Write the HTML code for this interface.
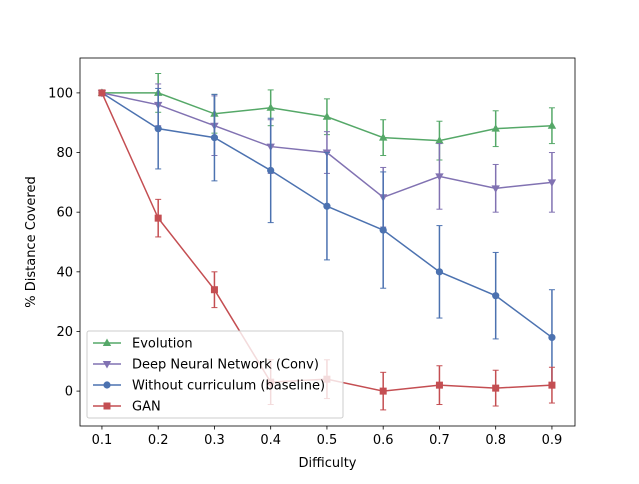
<!DOCTYPE html>
<html><head><meta charset="utf-8"><style>
body{margin:0;background:#fff;font-family:"Liberation Sans","DejaVu Sans",sans-serif}
svg text{font-family:"DejaVu Sans","Liberation Sans",sans-serif;font-size:13px;fill:#000}
</style></head><body>
<svg id="c" width="639" height="479" xmlns="http://www.w3.org/2000/svg"></svg>
<script>
const categories=[0.1,0.2,0.3,0.4,0.5,0.6,0.7,0.8,0.9];
const evolution=[100,100,93,95,92,85,84,88,89];
const evolutionErr=[0,6.5,6.5,6,6,6,6.5,6,6];
const dnn=[100,96,89,82,80,65,72,68,70];
const dnnErr=[0,7,10,9,7,10,11,8,10];
const baseline=[100,88,85,74,62,54,40,32,18];
const baselineErr=[0,13.5,14.5,17.5,18,19.5,15.5,14.5,16];
const gan=[100,58,34,3,4,0,2,1,2];
const ganErr=[0,6.3,6,7.5,6.5,6.3,6.5,6,6];
const xTicks=[0.1,0.2,0.3,0.4,0.5,0.6,0.7,0.8,0.9];
const yTicks=[0,20,40,60,80,100];
const L=80,R=575,T=58,B=426,xmin=0.061,xmax=0.941,ymin=-11.7,ymax=111.7;
const X=v=>L+(v-xmin)/(xmax-xmin)*(R-L);
const Y=v=>B-(v-ymin)/(ymax-ymin)*(B-T);
const svg=document.getElementById('c');const NS='http://www.w3.org/2000/svg';
function mk(t,a,p){const e=document.createElementNS(NS,t);for(const k in a)e.setAttribute(k,a[k]);(p||svg).appendChild(e);return e;}
xTicks.forEach(v=>{const g=mk('g',{});


mk('line',{x1:X(v),x2:X(v),y1:B,y2:B+3.5,stroke:'#000','stroke-width':0.8},g);
const t=mk('text',{x:X(v),y:B+18,'text-anchor':'middle'},g);t.textContent=v.toFixed(1);});
yTicks.forEach(v=>{const g=mk('g',{});


mk('line',{x1:L-3.5,x2:L,y1:Y(v),y2:Y(v),stroke:'#000','stroke-width':0.8},g);
const t=mk('text',{x:L-7,y:Y(v)+4.5,'text-anchor':'end'},g);t.textContent=v;});
const xt=mk('text',{x:(L+R)/2,y:467,'text-anchor':'middle'});xt.textContent='Difficulty';


const yt=mk('text',{x:0,y:0,'text-anchor':'middle',transform:`translate(35,${(T+B)/2}) rotate(-90)`});yt.textContent='% Distance Covered';


function marker(type,x,y,c,p){
 if(type==='o')return mk('circle',{cx:x,cy:y,r:3.6,fill:c},p);
 if(type==='s')return mk('rect',{x:x-3.5,y:y-3.5,width:7,height:7,fill:c},p);
 if(type==='^')return mk('polygon',{points:`${x},${y-4.5} ${x-4.2},${y+3} ${x+4.2},${y+3}`,fill:c},p);
 return mk('polygon',{points:`${x},${y+4.5} ${x-4.2},${y-3} ${x+4.2},${y-3}`,fill:c},p);
}
const series=[
 {name:'evolution',label:'Evolution',vals:evolution,err:evolutionErr,c:'#55a868',m:'^'},
 {name:'dnn',label:'Deep Neural Network (Conv)',vals:dnn,err:dnnErr,c:'#8172b2',m:'v'},
 {name:'baseline',label:'Without curriculum (baseline)',vals:baseline,err:baselineErr,c:'#4c72b0',m:'o'},
 {name:'gan',label:'GAN',vals:gan,err:ganErr,c:'#c44e52',m:'s'}];
series.forEach(s=>{
 const g=mk('g',{});
 
 
 categories.forEach((cx,i)=>{const x=X(cx),e=s.err[i];
  mk('line',{x1:x,x2:x,y1:Y(s.vals[i]+e),y2:Y(s.vals[i]-e),stroke:s.c,'stroke-width':1.5},g);
  mk('line',{x1:x-3,x2:x+3,y1:Y(s.vals[i]+e),y2:Y(s.vals[i]+e),stroke:s.c,'stroke-width':1},g);
  mk('line',{x1:x-3,x2:x+3,y1:Y(s.vals[i]-e),y2:Y(s.vals[i]-e),stroke:s.c,'stroke-width':1},g);});
 mk('polyline',{points:categories.map((cx,i)=>X(cx)+','+Y(s.vals[i])).join(' '),fill:'none',stroke:s.c,'stroke-width':1.5},g);
 categories.forEach((cx,i)=>{const m=marker(s.m,X(cx),Y(s.vals[i]),s.c,g);
  
  });
});
mk('rect',{x:L,y:T,width:R-L,height:B-T,fill:'none',stroke:'#000','stroke-width':0.8});
const lg=mk('g',{});


mk('rect',{x:87,y:331,width:256,height:87,rx:2,fill:'#fff','fill-opacity':0.8,stroke:'#ccc','stroke-width':1},lg);
series.forEach((s,i)=>{const y=343+i*21;
 const e=mk('g',{},lg);
 
 
 mk('line',{x1:93,x2:121,y1:y,y2:y,stroke:s.c,'stroke-width':1.5},e);
 marker(s.m,107,y,s.c,e);
 const t=mk('text',{x:132,y:y+4.5},e);t.textContent=s.label;});
</script>
</body></html>
